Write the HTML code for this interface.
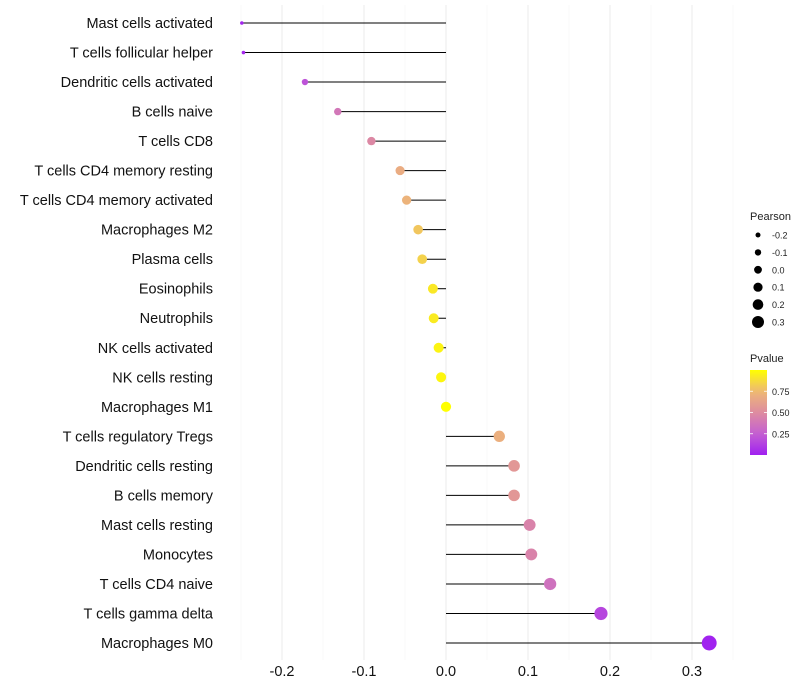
<!DOCTYPE html>
<html><head><meta charset="utf-8"><style>
html,body{margin:0;padding:0;background:#fff;}
svg{display:block;font-family:"Liberation Sans",Arial,sans-serif;}
</style></head><body>
<svg id="chart" width="800" height="700"></svg>
<script>
const categories=["Mast cells activated","T cells follicular helper","Dendritic cells activated","B cells naive","T cells CD8","T cells CD4 memory resting","T cells CD4 memory activated","Macrophages M2","Plasma cells","Eosinophils","Neutrophils","NK cells activated","NK cells resting","Macrophages M1","T cells regulatory  Tregs ","Dendritic cells resting","B cells memory","Mast cells resting","Monocytes","T cells CD4 naive","T cells gamma delta","Macrophages M0"];
const pearson=[-0.249,-0.247,-0.172,-0.132,-0.091,-0.056,-0.048,-0.034,-0.029,-0.016,-0.015,-0.009,-0.006,0.000,0.065,0.083,0.083,0.102,0.104,0.127,0.189,0.321];
const pvalues=[0.02,0.03,0.2,0.38,0.48,0.68,0.72,0.8,0.84,0.92,0.93,0.96,0.97,1.0,0.7,0.56,0.56,0.45,0.45,0.35,0.15,0.01];
const xTicks=[-0.2,-0.1,0.0,0.1,0.2,0.3];
const xTickLabels=["-0.2","-0.1","0.0","0.1","0.2","0.3"];
const sizeLegend=[-0.2,-0.1,0.0,0.1,0.2,0.3];
const sizeLegendLabels=["-0.2","-0.1","0.0","0.1","0.2","0.3"];
const pLegend=[0.25,0.5,0.75];
const pLegendLabels=["0.25","0.50","0.75"];

const NS="http://www.w3.org/2000/svg";
const svg=document.getElementById('chart');
const xs=v=>446+v*820;
const ys=i=>23+i*(620/21);
const rs=p=>Math.sqrt(Math.max(1,3+(p+0.25)*92));
const rl=p=>2.5+(p+0.2)*7;
function col(p){
  const stops=[[0,[160,32,240]],[0.25,[196,96,210]],[0.5,[222,140,160]],[0.75,[238,184,118]],[1,[255,255,0]]];
  for(let k=1;k<stops.length;k++){ if(p<=stops[k][0]){const a=stops[k-1],b=stops[k];const t=(p-a[0])/(b[0]-a[0]);
    return 'rgb('+a[1].map((c,j)=>Math.round(c+(b[1][j]-c)*t)).join(',')+')';}}
  return 'rgb(255,255,0)';
}
function mk(tag,attrs,parent){const e=document.createElementNS(NS,tag);for(const k in attrs)e.setAttribute(k,attrs[k]);(parent||svg).appendChild(e);return e;}

for(let v=-0.25;v<=0.3501;v+=0.05){
  const major=Math.abs(Math.round(v*10)-v*10)<1e-6;
  const g=mk('line',{x1:xs(v),x2:xs(v),y1:5,y2:660,stroke:major?'#ebebeb':'#f4f4f4','stroke-width':major?1:0.6});
  
  
}
xTicks.forEach((v,i)=>{
  const t=mk('text',{x:xs(v),y:676,'text-anchor':'middle','font-size':14.5,fill:'#111'});
  t.textContent=xTickLabels[i];
  
  
});
categories.forEach((c,i)=>{
  const t=mk('text',{x:213,y:ys(i)+5,'text-anchor':'end','font-size':14.5,fill:'#111'});
  t.textContent=c;
  
  
  const l=mk('line',{x1:xs(0),x2:xs(pearson[i]),y1:ys(i),y2:ys(i),stroke:'#000','stroke-width':1});
  
  
  const d=mk('circle',{cx:xs(pearson[i]),cy:ys(i),r:rs(pearson[i]),fill:col(pvalues[i])});
  
  
});
const lt=mk('text',{x:750,y:220,'font-size':11,fill:'#222'});lt.textContent='Pearson';


sizeLegend.forEach((p,i)=>{
  const y=235+i*17.4;
  const c=mk('circle',{cx:758,cy:y,r:rl(p),fill:'#000'});
  
  
  const t=mk('text',{x:772,y:y+3.5,'font-size':9,fill:'#222'});t.textContent=sizeLegendLabels[i];
  
  
});
const pt=mk('text',{x:750,y:362,'font-size':11,fill:'#222'});pt.textContent='Pvalue';


const defs=mk('defs',{});
const grad=mk('linearGradient',{id:'pg',x1:0,y1:1,x2:0,y2:0},defs);
for(let k=0;k<=10;k++){mk('stop',{offset:k/10,'stop-color':col(k/10)},grad);}
const yb=p=>455-p*85;
const bar=mk('rect',{x:750,y:370,width:17,height:85,fill:'url(#pg)'});


pLegend.forEach((p,i)=>{
  mk('line',{x1:750,x2:753,y1:yb(p),y2:yb(p),stroke:'#fff','stroke-width':0.8});
  mk('line',{x1:764,x2:767,y1:yb(p),y2:yb(p),stroke:'#fff','stroke-width':0.8});
  const t=mk('text',{x:772,y:yb(p)+3.5,'font-size':9,fill:'#222'});t.textContent=pLegendLabels[i];
  
  
});
</script>
</body></html>
